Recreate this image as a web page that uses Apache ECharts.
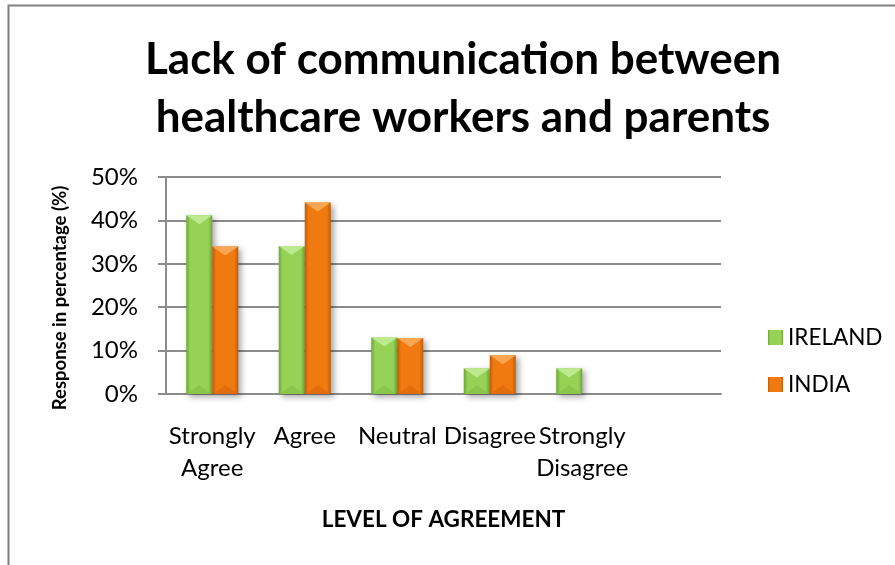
<!DOCTYPE html>
<html>
<head>
<meta charset="utf-8">
<script src="https://cdn.jsdelivr.net/npm/echarts@6/dist/echarts.min.js"></script>
<style>
  html, body { margin: 0; padding: 0; background: #fff; }
  #chart { width: 895px; height: 565px; }
</style>
</head>
<body>
<div id="chart"></div>
<script>
// Survey answers by level of agreement (percent of respondents)
const categories = ['Strongly\nAgree', 'Agree', 'Neutral', 'Disagree', 'Strongly\nDisagree', ''];
const ireland = [41.2, 34.1, 13.0, 5.9, 5.9, null];
const india = [34.0, 44.1, 12.9, 8.9, 0, null];
const seriesNames = ['IRELAND', 'INDIA'];
const yTicks = { min: 0, max: 50, interval: 10 };

const FONT = 'Lato, "Liberation Sans", sans-serif';
const BAR_W = 26;

// Palette per country: body, darker side, light top facet, lower facet
const palette = {
  IRELAND: { mid: '#95D255', side: '#6FA536', top: '#BDE98F', bottom: '#86C147' },
  INDIA:   { mid: '#F07A10', side: '#BF5C07', top: '#F9A654', bottom: '#DB6A0A' }
};

function bodyGradient(p) {
  return new echarts.graphic.LinearGradient(0, 0, 1, 0, [
    { offset: 0, color: p.side },
    { offset: 0.15, color: p.mid },
    { offset: 0.85, color: p.mid },
    { offset: 1, color: p.side }
  ]);
}

// Bevel facets drawn on top of each bar (top and bottom triangles)
function bevelSeries(name, values, offset) {
  const p = palette[name];
  return {
    type: 'custom',
    name: name + ' bevel',
    silent: true,
    z: 5,
    data: values.map((v, i) => [i, v]),
    renderItem(params, api) {
      const v = api.value(1);
      if (v == null || isNaN(v)) return null;
      const top = api.coord([api.value(0), v]);
      const base = api.coord([api.value(0), 0]);
      const h = base[1] - top[1];
      if (h <= 1) return null;
      const x0 = top[0] + offset;
      const w = BAR_W;
      const d = Math.min(9, h / 2);
      return {
        type: 'group',
        children: [
          {
            type: 'polygon',
            shape: { points: [[x0, top[1]], [x0 + w, top[1]], [x0 + w / 2, top[1] + d]] },
            style: { fill: p.top }
          },
          {
            type: 'polygon',
            shape: { points: [[x0 + 1, base[1]], [x0 + w - 1, base[1]], [x0 + w / 2, base[1] - d]] },
            style: { fill: p.bottom, opacity: 0.7 }
          }
        ]
      };
    }
  };
}

function barSeries(name, values) {
  const p = palette[name];
  return {
    type: 'bar',
    name: name,
    data: values,
    barWidth: BAR_W,
    barGap: '0%',
    itemStyle: {
      color: bodyGradient(p),
      borderWidth: 0,
      shadowBlur: 6,
      shadowOffsetX: 3,
      shadowOffsetY: 3,
      shadowColor: 'rgba(0,0,0,0.35)'
    }
  };
}

const chart = echarts.init(document.getElementById('chart'), null, { renderer: 'canvas' });

chart.setOption({
  backgroundColor: '#ffffff',
  animation: false,
  title: {
    text: 'Lack of communication between\nhealthcare workers and parents',
    left: 458,
    top: 26,
    textAlign: 'center',
    textStyle: {
      fontFamily: FONT,
      fontWeight: 'bold',
      fontSize: 44,
      lineHeight: 58,
      color: '#000'
    }
  },
  legend: {
    data: seriesNames,
    orient: 'vertical',
    left: 763,
    top: 321,
    itemWidth: 15,
    itemHeight: 15,
    itemGap: 24,
    itemTextGap: 7,
    icon: 'rect',
    textStyle: { fontFamily: FONT, fontSize: 22.5, color: '#000' }
  },
  grid: { left: 166, right: 174, top: 177, bottom: 171, containLabel: false },
  xAxis: {
    type: 'category',
    data: categories,
    name: 'LEVEL OF AGREEMENT',
    nameLocation: 'middle',
    nameGap: 114,
    nameTextStyle: { fontFamily: FONT, fontWeight: 'bold', fontSize: 22.5, color: '#000' },
    axisLine: { lineStyle: { color: '#8c8c8c', width: 2 } },
    axisTick: { show: false },
    axisLabel: {
      interval: 0,
      margin: 26,
      fontFamily: FONT,
      fontSize: 24,
      lineHeight: 32,
      color: '#000'
    }
  },
  yAxis: {
    type: 'value',
    min: yTicks.min,
    max: yTicks.max,
    interval: yTicks.interval,
    axisLine: { show: true, lineStyle: { color: '#8c8c8c', width: 2 } },
    axisTick: { show: true, inside: false, length: 8, lineStyle: { color: '#8c8c8c', width: 2 } },
    splitLine: { lineStyle: { color: '#8c8c8c', width: 2 } },
    axisLabel: {
      margin: 28,
      formatter: '{value}%',
      fontFamily: FONT,
      fontSize: 24,
      color: '#000'
    }
  },
  graphic: [
    {
      type: 'rect',
      silent: true,
      shape: { x: 8.5, y: 5.5, width: 2000, height: 2000 },
      style: { fill: 'none', stroke: '#808080', lineWidth: 2 }
    },
    {
      // vertical axis title
      type: 'text',
      silent: true,
      x: 60,
      y: 298,
      rotation: Math.PI / 2,
      style: {
        text: 'Response in percentage (%)',
        fontFamily: FONT,
        fontWeight: 'bold',
        fontSize: 18.5,
        fill: '#000',
        align: 'center',
        verticalAlign: 'middle'
      }
    }
  ],
  series: [
    barSeries('IRELAND', ireland),
    barSeries('INDIA', india),
    bevelSeries('IRELAND', ireland, -BAR_W),
    bevelSeries('INDIA', india, 0)
  ]
});
</script>
</body>
</html>
